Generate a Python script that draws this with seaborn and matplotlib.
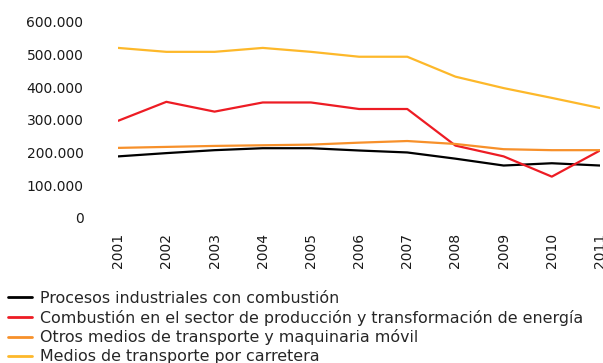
import matplotlib
matplotlib.use("Agg")
import matplotlib.pyplot as plt
import matplotlib.ticker as mticker
import seaborn as sns
import pandas as pd

years = [2001, 2002, 2003, 2004, 2005, 2006, 2007, 2008, 2009, 2010, 2011]

procesos_industriales = [188000, 198000, 207000, 213000, 213000, 206000, 200000, 181000, 160000, 167000, 160000]
combustion_energia = [297000, 355000, 325000, 353000, 353000, 333000, 333000, 221000, 188000, 126000, 206000]
otros_transporte = [214000, 217000, 220000, 222000, 224000, 230000, 235000, 226000, 210000, 207000, 207000]
transporte_carretera = [520000, 508000, 508000, 520000, 508000, 493000, 493000, 432000, 397000, 367000, 336000]

series_names = [
    "Procesos industriales con combustión",
    "Combustión en el sector de producción y transformación de energía",
    "Otros medios de transporte y maquinaria móvil",
    "Medios de transporte por carretera",
]
series_values = [procesos_industriales, combustion_energia, otros_transporte, transporte_carretera]
colors = ["#000000", "#ED1C24", "#F7902A", "#FDB82A"]

y_ticks = [0, 100000, 200000, 300000, 400000, 500000, 600000]

rows = []
for name, vals in zip(series_names, series_values):
    for yr, v in zip(years, vals):
        rows.append({"Año": yr, "Valor": v, "Serie": name})
df = pd.DataFrame(rows)

sns.set_theme(style="white")
plt.rcParams["font.family"] = ["DejaVu Sans"]

fig = plt.figure(figsize=(6.03, 3.63), dpi=100)
ax = fig.add_axes([0.196, 0.40, 0.799, 0.54])

sns.lineplot(data=df, x="Año", y="Valor", hue="Serie", hue_order=series_names,
             palette=colors, linewidth=1.6, ax=ax, legend=False)

ax.set_xlim(2001, 2011)
ax.set_ylim(0, 600000)
ax.set_yticks(y_ticks)
ax.yaxis.set_major_formatter(mticker.FuncFormatter(
    lambda v, p: "0" if v == 0 else f"{int(v):,}".replace(",", ".")))
ax.set_xticks(years)
ax.set_xticklabels([str(y) for y in years], rotation=90)
ax.tick_params(axis="both", labelsize=10, colors="#1a1a1a", length=0)
ax.tick_params(axis="y", pad=25)
ax.tick_params(axis="x", pad=11)
ax.set_xlabel("")
ax.set_ylabel("")
for s in ax.spines.values():
    s.set_visible(False)

handles = [plt.Line2D([], [], color=c, linewidth=2) for c in colors]
fig.legend(handles, series_names, loc="upper left", bbox_to_anchor=(0.013, 0.199),
           frameon=False, fontsize=11.4, handlelength=1.55, handletextpad=0.45,
           labelspacing=0.24, borderaxespad=0.0, borderpad=0.0)

fig.savefig("out.png", dpi=100)
